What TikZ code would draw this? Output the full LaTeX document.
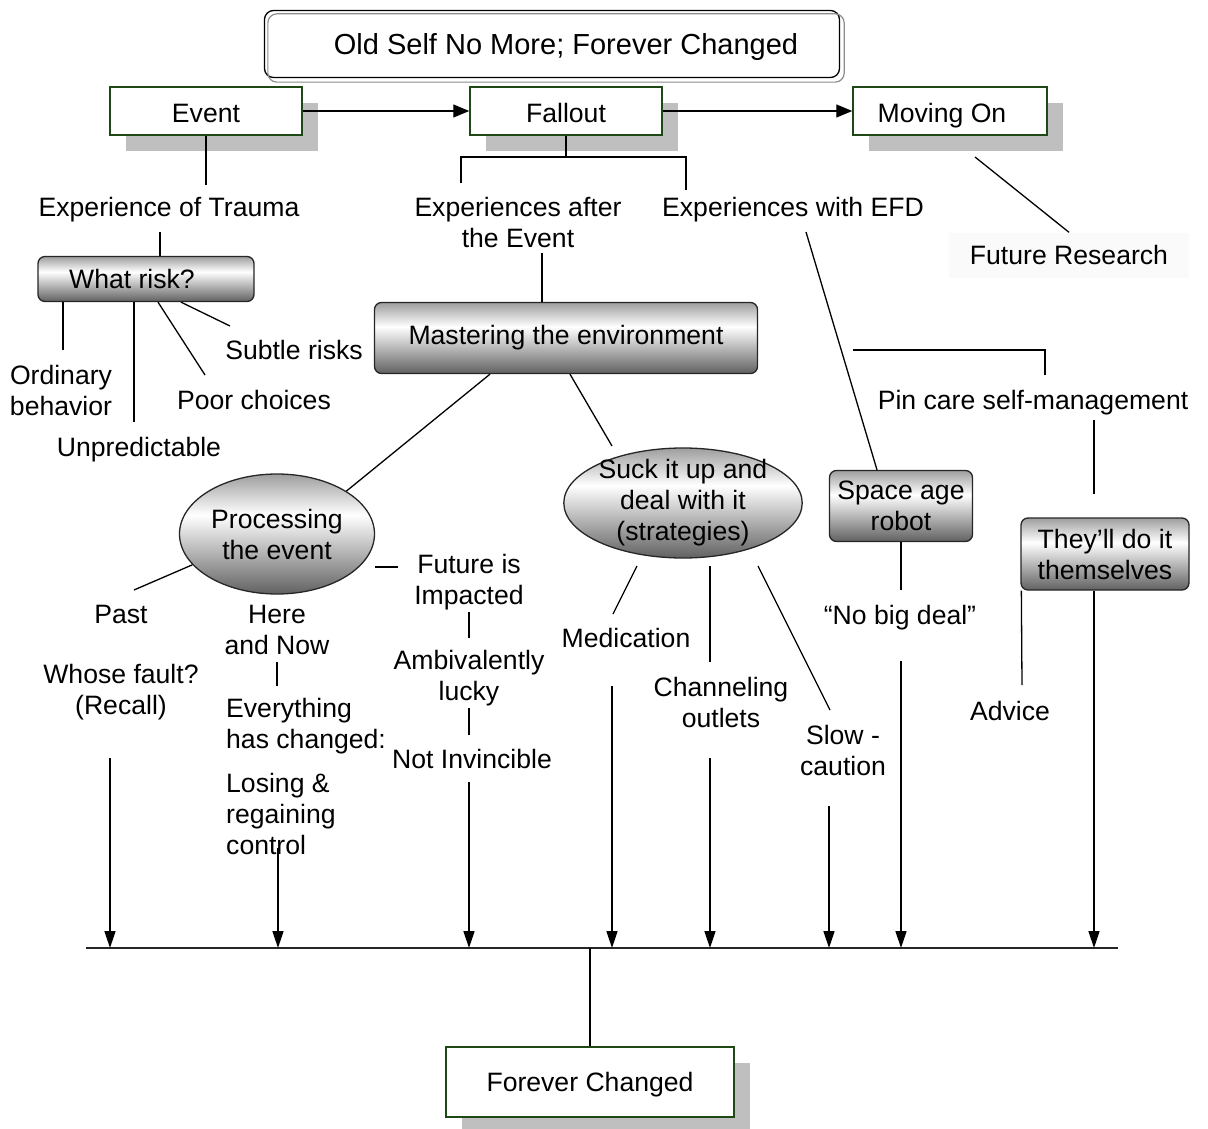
\documentclass[tikz,border=0pt]{standalone}
\usepackage{fontspec}
\setmainfont{Liberation Sans}
\usetikzlibrary{arrows.meta,shapes.geometric,shadows}
\definecolor{boxgreen}{RGB}{30,72,22}
\pgfdeclareverticalshading{boxshade}{100bp}{color(0bp)=(black!62); color(25bp)=(black!62); color(58bp)=(white); color(75bp)=(black!38); color(100bp)=(black!38)}
\begin{document}
\begin{tikzpicture}[x=1pt, y=-1pt,
    every node/.style={font=\fontsize{26.6}{31}\selectfont, align=center, inner sep=0pt},
    flat/.style={text depth=0pt},
    stage/.style={draw=boxgreen, line width=1.5pt, fill=white, minimum width=192pt, minimum height=48pt,
        text height=23pt, text depth=0pt,
        drop shadow={shadow xshift=16pt, shadow yshift=-16pt, fill=black!25, opacity=1}},
    grey box/.style={draw=black!85, line width=1.3pt, rounded corners=7pt, shade, shading=boxshade},
    grey oval/.style={ellipse, draw=black!85, line width=1.3pt, shade, shading=boxshade},
    link/.style={line width=1.3pt},
    flow/.style={line width=1.3pt, -{Triangle[length=16pt,width=13pt]}},
    down/.style={line width=1.6pt, -{Triangle[length=17pt,width=11pt]}}]
    \useasboundingbox (0,0) rectangle (1208,1129);

    \node[draw, line width=1.3pt, rounded corners=9pt, minimum width=575pt, minimum height=67pt, text depth=0pt,
        font=\fontsize{29}{34}\selectfont] (title) at (552,44) {\hspace*{28pt}Old Self No More; Forever Changed};
    \draw[black!45, line width=1.2pt, rounded corners=9pt] ([shift={(4,4)}]title.north west) rectangle ([shift={(4,4)}]title.south east);

    \node[stage] (event) at (206,111) {Event};
    \node[stage] (fallout) at (566,111) {Fallout};
    \node[stage, minimum width=194pt] (moving) at (950,111) {Moving On\hspace*{16pt}};
    \node[stage, minimum width=288pt, minimum height=70pt, text height=19pt] (forever) at (590,1082) {Forever Changed};

    \node[flat] (trauma) at (169,207) {Experience of Trauma};
    \node[grey box, minimum width=216pt, minimum height=45pt] (risk) at (146,279) {What risk?\hspace*{28pt}};
    \node (ordinary) at (61,390) {Ordinary\\behavior};
    \node[flat] (unpredictable) at (139,447) {Unpredictable};
    \node (poor) at (254,400) {Poor choices};
    \node (subtle) at (294,350) {Subtle risks};

    \node (after) at (518,222) {Experiences after\\the Event};
    \node[flat] (efd) at (793,207) {Experiences with EFD};
    \node[fill=black!2, minimum width=240pt, minimum height=45pt] (research) at (1069,255) {Future Research};
    \node[grey box, minimum width=383pt, minimum height=71pt] (master) at (566,338) {Mastering the environment};
    \node[flat] (pincare) at (1033,400) {Pin care self-management};

    \node[grey oval, minimum width=195pt, minimum height=120pt] (process) at (277,534) {Processing\\the event};
    \node[grey oval, minimum width=233pt, minimum height=110pt, inner ysep=-5pt] (suck) at (683,503) {Suck it up and\\deal with it\\(strategies)};
    \node[grey box, minimum width=143pt, minimum height=71pt] (robot) at (901,506) {Space age\\robot};
    \node[grey box, minimum width=168pt, minimum height=72pt] (selfdo) at (1105,554) {They’ll do it\\themselves};

    \node (past) at (121,614) {Past};
    \node (herenow) at (277,630) {Here\\and Now};
    \node (impacted) at (469,582) {Future is\\Impacted};
    \node (fault) at (121,692) {Whose fault?\\(Recall)};
    \node[anchor=west, align=left] (everything) at (226,726) {Everything\\has changed:};
    \node[anchor=west, align=left] (losing) at (226,814) {Losing \&\\regaining\\control};
    \node (lucky) at (469,678) {Ambivalently\\lucky};
    \node (invincible) at (472,759) {Not Invincible};
    \node (medication) at (626,638) {Medication};
    \node (channeling) at (721,702) {Channeling\\outlets};
    \node (slow) at (843,750) {Slow -\\caution};
    \node[flat] (nobig) at (900,615) {“No big deal”};
    \node (advice) at (1010,711) {Advice};

    \draw[flow] (event) -- (fallout);
    \draw[flow] (fallout) -- (moving);

    \coordinate (e1) at (206,185);
    \coordinate (t1) at (160,232);
    \draw[link] (event.south) -- (e1);
    \draw[link] (t1) -- (t1 |- risk.north);

    \coordinate (r1) at (63,350);
    \coordinate (r2) at (134,422);
    \coordinate (r3) at (205,375);
    \coordinate (r4) at (230,326);
    \draw[link] (r1 |- risk.south) -- (r1);
    \draw[link] (r2 |- risk.south) -- (r2);
    \draw[link] ([xshift=12pt]risk.south) -- (r3);
    \draw[link] ([xshift=35pt]risk.south) -- (r4);

    \coordinate (fj) at (566,157);
    \coordinate (f1) at (461,183);
    \coordinate (f2) at (686,190);
    \draw[link] (fallout.south) -- (fj);
    \draw[link] (f1) -- (f1 |- fj) -- (f2 |- fj) -- (f2);

    \coordinate (a1) at (542,253);
    \draw[link] (a1) -- (a1 |- master.north);
    \coordinate (m2) at (612,446);
    \draw[link] ([xshift=-76pt]master.south) -- (process.north east);
    \draw[link] ([xshift=4pt]master.south) -- (m2);

    \coordinate (d1) at (806,232);
    \draw[link] (d1) -- ([xshift=-24pt]robot.north);
    \coordinate (n1) at (975,157);
    \draw[link] (n1) -- (research.north);

    \coordinate (p1) at (853,350);
    \coordinate (p2) at (1045,375);
    \coordinate (p3) at (1094,420);
    \coordinate (p4) at (1094,494);
    \draw[link] (p1) -| (p2);
    \draw[link] (p3) -- (p4);

    \coordinate (q1) at (134,590);
    \coordinate (q2) at (398,567);
    \draw[link] (process.200) -- (q1);
    \draw[link] (q2 -| process.east) -- (q2);

    \coordinate (h1) at (277,662);
    \coordinate (h2) at (277,686);
    \coordinate (l1) at (469,612);
    \coordinate (l2) at (469,638);
    \coordinate (l3) at (469,708);
    \coordinate (l4) at (469,735);
    \draw[link] (h1) -- (h2);
    \draw[link] (l1) -- (l2);
    \draw[link] (l3) -- (l4);

    \coordinate (s1) at (637,566);
    \coordinate (s2) at (613,614);
    \coordinate (s3) at (710,566);
    \coordinate (s4) at (710,662);
    \coordinate (s5) at (758,566);
    \coordinate (s6) at (830,710);
    \draw[link] (s1) -- (s2);
    \draw[link] (s3) -- (s4);
    \draw[link] (s5) -- (s6);

    \coordinate (b1) at (901,590);
    \coordinate (v1) at (1022,685);
    \draw[link] (robot.south) -- (b1);
    \draw[link] ([xshift=1pt]selfdo.south west) -- (v1);

    \coordinate (bl) at (86,948);
    \coordinate (br) at (1118,948);
    \draw[line width=2.5pt, black!85] (bl) -- (br);
    \foreach \n/\x/\y in {1/110/758, 2/278/848, 3/469/782, 4/612/686, 5/710/758, 6/829/806, 7/901/661}
        {\coordinate (top\n) at (\x,\y);
         \draw[down] (top\n) -- (top\n |- bl);}
    \draw[down] ([xshift=-11pt]selfdo.south) -- ([xshift=-11pt]selfdo.south |- bl);

    \coordinate (mid) at (590,948);
    \draw[link] (mid) -- (forever.north);
\end{tikzpicture}
\end{document}
